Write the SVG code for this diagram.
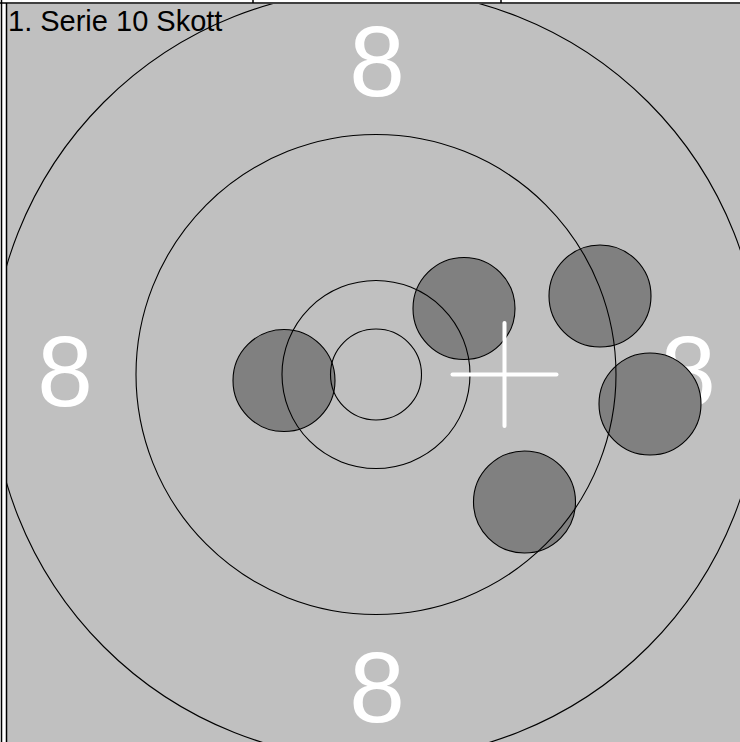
<svg xmlns="http://www.w3.org/2000/svg" width="740" height="742" viewBox="0 0 740 742">
<style>
.ring{fill:none;stroke:#000;stroke-width:1.1}
.hole{fill:#808080;stroke:#000;stroke-width:1.1}
.num{font-family:"Liberation Sans",Arial,sans-serif;font-size:100px;fill:#fff;text-anchor:middle}
.title{font-family:"Liberation Sans",Arial,sans-serif;font-size:29px;fill:#000}
.frame{stroke:#000;stroke-width:1.5;fill:none}
.cross{stroke:#fff;stroke-width:4;stroke-linecap:round}
</style>
<defs>
<clipPath id="cell"><rect x="7" y="4" width="733" height="738"/></clipPath>
</defs>
<rect width="740" height="742" fill="#fff"/>
<rect x="7" y="4" width="733" height="738" fill="#c0c0c0"/>
<g id="frame">
<line class="frame" x1="0" y1="3" x2="740" y2="3"/>
<line class="frame" x1="253" y1="0" x2="253" y2="3"/>
<line class="frame" x1="501" y1="0" x2="501" y2="3"/>
<line class="frame" x1="1.5" y1="0" x2="1.5" y2="742"/>
<line class="frame" x1="6.5" y1="3" x2="6.5" y2="742"/>
</g>
<g id="target" clip-path="url(#cell)">
<g id="numbers">
<text class="num" x="377" y="96">8</text>
<text class="num" x="65" y="406">8</text>
<text class="num" x="688" y="406">8</text>
<text class="num" x="377" y="722">8</text>
</g>
<g id="holes">
<circle class="hole" cx="284" cy="380.5" r="51"/>
<circle class="hole" cx="464" cy="308.5" r="51"/>
<circle class="hole" cx="600" cy="296" r="51"/>
<circle class="hole" cx="650" cy="404" r="51"/>
<circle class="hole" cx="524.5" cy="502" r="51"/>
</g>
<g id="rings">
<circle class="ring" cx="376" cy="374.5" r="45.5"/>
<circle class="ring" cx="376" cy="374.5" r="94"/>
<circle class="ring" cx="376" cy="374.5" r="240"/>
<circle class="ring" cx="376" cy="374.5" r="385"/>
</g>
<g id="crosshair">
<line class="cross" x1="452.5" y1="374.5" x2="556.5" y2="374.5"/>
<line class="cross" x1="504.5" y1="323" x2="504.5" y2="426"/>
</g>
</g>
<text class="title" x="8" y="31">1. Serie 10 Skott</text>
</svg>
